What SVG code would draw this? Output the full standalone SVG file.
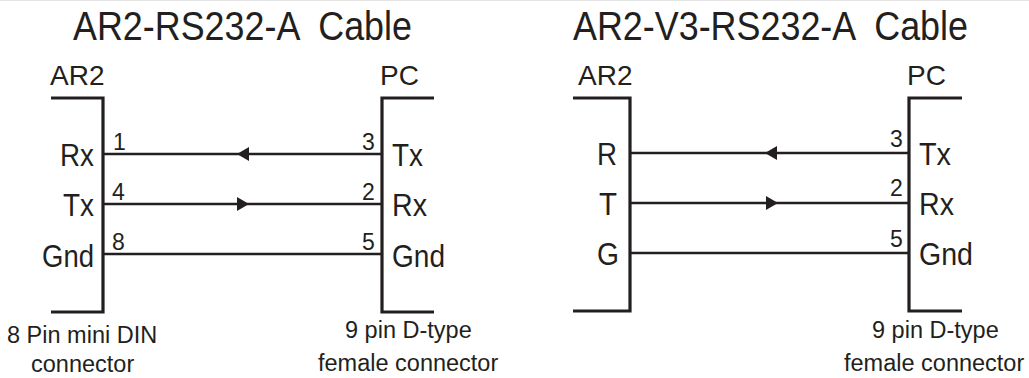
<svg xmlns="http://www.w3.org/2000/svg" width="1029" height="378" viewBox="0 0 1029 378">
<style>
text{font-family:"Liberation Sans",Arial,sans-serif;fill:#231f20}
.t{font-size:40px;white-space:pre}
.h{font-size:28px}
.s{font-size:32px}
.p{font-size:23px}
.b{font-size:23.5px}
.br{fill:none;stroke:#231f20;stroke-width:3.2}
.w{stroke:#231f20;stroke-width:2.6;fill:none}
.a{fill:#231f20}
</style>
<rect x="0" y="0" width="1029" height="378" fill="#ffffff"/>
<line x1="0" y1="0.5" x2="1029" y2="0.5" stroke="#e4e4e4" stroke-width="1"/>

<g id="left-diagram">
  <text class="t" x="73" y="40" textLength="339" lengthAdjust="spacingAndGlyphs" xml:space="preserve">AR2-RS232-A  Cable</text>
  <g id="left-ar2">
    <text class="h" x="50" y="85">AR2</text>
    <polyline class="br" points="51,98 103,98 103,312 51,312"/>
    <text class="s" x="60" y="166" textLength="34" lengthAdjust="spacingAndGlyphs">Rx</text>
    <text class="s" x="63" y="216" textLength="31" lengthAdjust="spacingAndGlyphs">Tx</text>
    <text class="s" x="42" y="267" textLength="52" lengthAdjust="spacingAndGlyphs">Gnd</text>
    <text class="b" x="7" y="343">8 Pin mini DIN</text>
    <text class="b" x="31" y="372">connector</text>
  </g>
  <g id="left-pc">
    <text class="h" x="380" y="85">PC</text>
    <polyline class="br" points="434,98 382,98 382,312 434,312"/>
    <text class="s" x="392" y="166" textLength="31" lengthAdjust="spacingAndGlyphs">Tx</text>
    <text class="s" x="392" y="216" textLength="35" lengthAdjust="spacingAndGlyphs">Rx</text>
    <text class="s" x="392" y="267" textLength="53" lengthAdjust="spacingAndGlyphs">Gnd</text>
    <text class="b" x="345" y="338">9 pin D-type</text>
    <text class="b" x="318" y="371">female connector</text>
  </g>
  <g id="left-connectors">
    <line class="w" x1="103" y1="154" x2="382" y2="154"/>
    <polygon class="a" points="237,154 249,147 249,161"/>
    <line class="w" x1="103" y1="204" x2="382" y2="204"/>
    <polygon class="a" points="249,204 237,197 237,211"/>
    <line class="w" x1="103" y1="254" x2="382" y2="254"/>
    <text class="p" x="113" y="150">1</text>
    <text class="p" x="112" y="200">4</text>
    <text class="p" x="112" y="250">8</text>
    <text class="p" x="362" y="150">3</text>
    <text class="p" x="362" y="200">2</text>
    <text class="p" x="362" y="250">5</text>
  </g>
</g>

<g id="right-diagram">
  <text class="t" x="573" y="40" textLength="395" lengthAdjust="spacingAndGlyphs" xml:space="preserve">AR2-V3-RS232-A  Cable</text>
  <g id="right-ar2">
    <text class="h" x="578" y="85">AR2</text>
    <polyline class="br" points="573,98 630,98 630,311 573,311"/>
    <text class="s" x="597" y="165" textLength="20" lengthAdjust="spacingAndGlyphs">R</text>
    <text class="s" x="599" y="215" textLength="18" lengthAdjust="spacingAndGlyphs">T</text>
    <text class="s" x="597" y="265" textLength="22" lengthAdjust="spacingAndGlyphs">G</text>
  </g>
  <g id="right-pc">
    <text class="h" x="907" y="85">PC</text>
    <polyline class="br" points="962,98 909,98 909,311 962,311"/>
    <text class="s" x="919" y="165" textLength="32" lengthAdjust="spacingAndGlyphs">Tx</text>
    <text class="s" x="919" y="215" textLength="35" lengthAdjust="spacingAndGlyphs">Rx</text>
    <text class="s" x="919" y="265" textLength="54" lengthAdjust="spacingAndGlyphs">Gnd</text>
    <text class="b" x="872" y="338">9 pin D-type</text>
    <text class="b" x="844" y="371">female connector</text>
  </g>
  <g id="right-connectors">
    <line class="w" x1="630" y1="153" x2="909" y2="153"/>
    <polygon class="a" points="765,153 777,146 777,160"/>
    <line class="w" x1="630" y1="203" x2="909" y2="203"/>
    <polygon class="a" points="778,203 766,196 766,210"/>
    <line class="w" x1="630" y1="253" x2="909" y2="253"/>
    <text class="p" x="890" y="147">3</text>
    <text class="p" x="890" y="196">2</text>
    <text class="p" x="890" y="247">5</text>
  </g>
</g>
</svg>
